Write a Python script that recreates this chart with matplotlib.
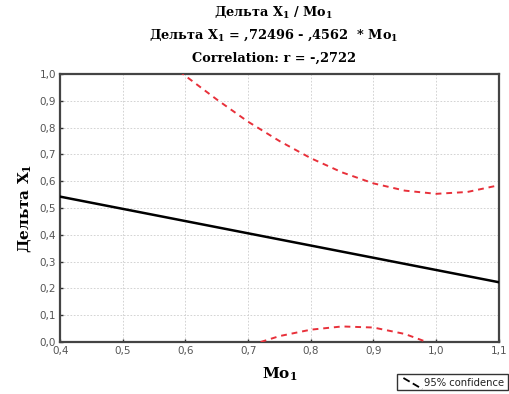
import matplotlib
matplotlib.use("Agg")
import matplotlib.pyplot as plt
from matplotlib.lines import Line2D
from matplotlib.patches import Rectangle

plt.rcParams['mathtext.fontset'] = 'dejavuserif'

# Data
intercept = 0.72496
slope = -0.4562
fit_x = [0.4, 1.1]
upper_x = [0.59, 0.60, 0.65, 0.70, 0.75, 0.80, 0.85, 0.90, 0.95, 1.00, 1.05, 1.10]
upper_y = [1.011, 0.993, 0.905, 0.822, 0.750, 0.686, 0.633, 0.592, 0.565, 0.553, 0.560, 0.585]
lower_x = [0.72, 0.75, 0.80, 0.85, 0.90, 0.95, 0.985]
lower_y = [0.0, 0.022, 0.046, 0.058, 0.054, 0.030, 0.0]
xticks = [0.4, 0.5, 0.6, 0.7, 0.8, 0.9, 1.0, 1.1]
yticks = [0.0, 0.1, 0.2, 0.3, 0.4, 0.5, 0.6, 0.7, 0.8, 0.9, 1.0]

serif = ['DejaVu Serif']
sans = ['DejaVu Sans']
sub1 = r'$_{\mathbf{1}}$'

fig = plt.figure(figsize=(5.10, 3.94), dpi=100)
ax = fig.add_axes([0.118, 0.132, 0.860, 0.680])

fit_y = [intercept + slope * x for x in fit_x]
ax.plot(fit_x, fit_y, color='black', lw=1.8, zorder=3)
ax.plot(upper_x, upper_y, color='#e8303a', lw=1.4, ls=(0, (3, 2.5)), zorder=3)
ax.plot(lower_x, lower_y, color='#e8303a', lw=1.4, ls=(0, (3, 2.5)), zorder=3)

ax.set_xlim(0.4, 1.1)
ax.set_ylim(0.0, 1.0)
ax.set_xticks(xticks)
ax.set_yticks(yticks)
ax.set_xticklabels([f"{v:.1f}".replace('.', ',') for v in xticks], family=sans, fontsize=7.5, color='#555555')
ax.set_yticklabels([f"{v:.1f}".replace('.', ',') for v in yticks], family=sans, fontsize=7.5, color='#555555')
ax.tick_params(direction='in', length=2.5, width=1, color='#333333', pad=3)
ax.grid(True, color='#cccccc', lw=0.6, ls=(0, (2, 2)))
for s in ax.spines.values():
    s.set_color('#444444')
    s.set_linewidth(1.6)

ax.set_xlabel('Mo' + sub1, family=serif, fontsize=11, fontweight='bold', labelpad=7)
ax.set_ylabel('Дельта X' + sub1, family=serif, fontsize=11, fontweight='bold', labelpad=5)

tx = 0.537
fig.text(tx, 0.968, 'Дельта X' + sub1 + ' / Mo' + sub1, family=serif, fontsize=9.3, fontweight='bold', ha='center', va='center')
fig.text(tx, 0.910, 'Дельта X' + sub1 + ' = ,72496 - ,4562  * Mo' + sub1, family=serif, fontsize=9.3, fontweight='bold', ha='center', va='center')
fig.text(tx, 0.853, 'Correlation: r = -,2722', family=serif, fontsize=9.3, fontweight='bold', ha='center', va='center')

# legend box
fig.patches.append(Rectangle((0.779, 0.0102), 0.218, 0.0406, transform=fig.transFigure,
                             fill=True, facecolor='white', edgecolor='#333333', lw=1.0))
fig.lines.append(Line2D([0.791, 0.828], [0.0406, 0.0127], transform=fig.transFigure,
                        color='black', lw=1.3, ls=(0, (4, 2))))
fig.text(0.832, 0.029, '95% confidence', family=sans, fontsize=7.2, ha='left', va='center', color='#222222')

fig.savefig('out.png', dpi=100)
